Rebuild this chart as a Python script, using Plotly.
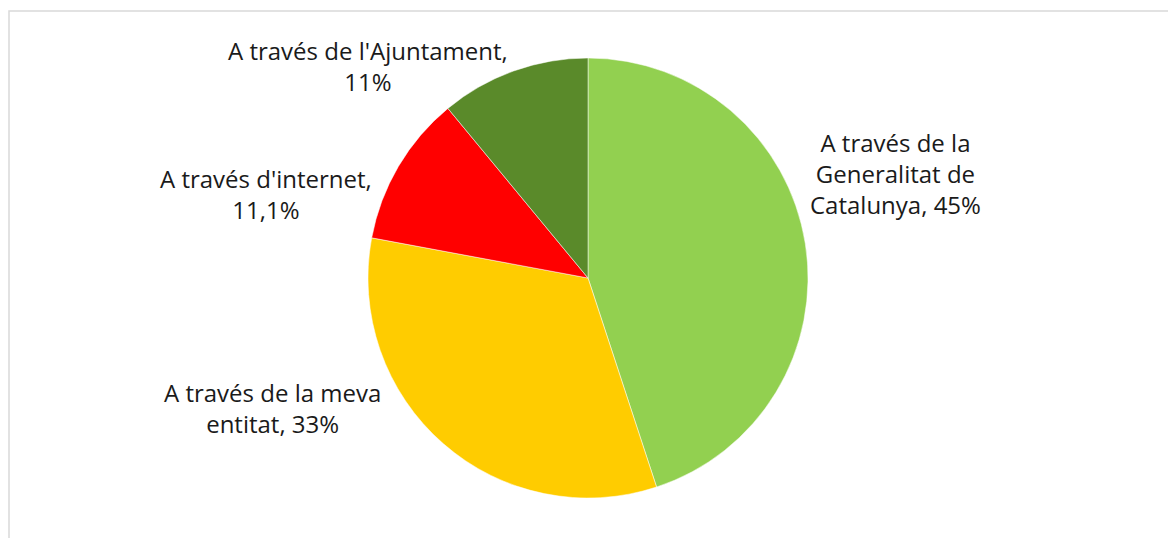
import plotly.graph_objects as go

labels = ["A través de la Generalitat de Catalunya", "A través de la meva entitat",
          "A través d'internet", "A través de l'Ajuntament"]
values = [45, 33, 11.1, 11]
value_text = ["45%", "33%", "11,1%", "11%"]
colors = ["#92D050", "#FFCC00", "#FF0000", "#5A8A2A"]
label_lines = [["A través de la", "Generalitat de", "Catalunya, {v}"],
               ["A través de la meva", "entitat, {v}"],
               ["A través d'internet,", "{v}"],
               ["A través de l'Ajuntament,", "{v}"]]
label_pos_px = [(896, 173), (272, 408), (266, 194), (368, 66)]

W, H = 1176, 538
OFF = 8  # page body margin
cx, cy, r = 588 - OFF, 278 - OFF, 220

fig = go.Figure(go.Pie(
    labels=labels, values=values, sort=False, direction="clockwise", rotation=0,
    marker=dict(colors=colors, line=dict(color="white", width=0.5)),
    textinfo="none", hoverinfo="label+percent", showlegend=False,
    domain=dict(x=[(cx - r) / W, (cx + r) / W], y=[(H - cy - r) / H, (H - cy + r) / H]),
))

for lines, v, (px, py) in zip(label_lines, value_text, label_pos_px):
    fig.add_annotation(
        x=(px - OFF) / W, y=1 - (py - OFF) / H, xref="paper", yref="paper",
        text="<br>".join(l.format(v=v) for l in lines),
        showarrow=False, xanchor="center", yanchor="middle", align="center",
        font=dict(family="Open Sans", size=24, color="#1a1a1a"),
    )

fig.add_shape(type="rect", xref="paper", yref="paper",
              x0=1 / W, x1=1.02, y0=-0.02, y1=1 - 3 / H,
              line=dict(color="#D9D9D9", width=1.5))

fig.update_layout(width=W, height=H, margin=dict(l=0, r=0, t=0, b=0),
                  paper_bgcolor="white", plot_bgcolor="white")
fig.write_html("out.html")
